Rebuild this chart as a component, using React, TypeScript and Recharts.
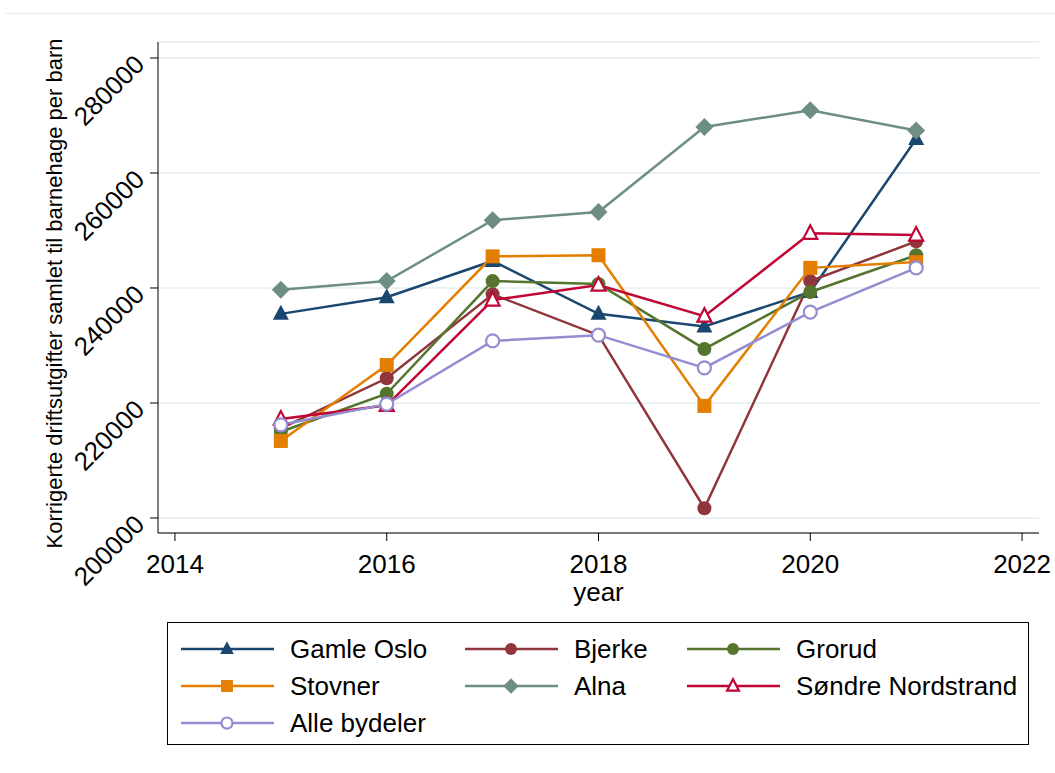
import React from 'react';
import { LineChart, Line, XAxis, YAxis, CartesianGrid } from 'recharts';

const years = [2015, 2016, 2017, 2018, 2019, 2020, 2021];
const gamleOslo = [235500, 238400, 244700, 235500, 233300, 239300, 265900];
const bjerke = [215600, 224300, 238900, 231800, 201700, 241200, 248100];
const grorud = [215000, 221600, 241200, 240700, 229400, 239300, 245700];
const stovner = [213400, 226600, 245500, 245700, 219500, 243500, 244500];
const alna = [239700, 241200, 251800, 253200, 268000, 270900, 267400];
const sondreNordstrand = [217200, 219600, 237900, 240500, 235100, 249500, 249200];
const alleBydeler = [216200, 219800, 230800, 231800, 226100, 235800, 243500];
const xTicks = [2014, 2016, 2018, 2020, 2022];
const yTicks = [200000, 220000, 240000, 260000, 280000];

const FONT = '"Liberation Sans", Arial, sans-serif';

type Shape = 'triangle' | 'circle' | 'square' | 'diamond' | 'triangleOpen' | 'circleOpen';

const series: { key: string; name: string; color: string; shape: Shape; values: number[] }[] = [
  { key: 'gamleOslo', name: 'Gamle Oslo', color: '#1a476f', shape: 'triangle', values: gamleOslo },
  { key: 'bjerke', name: 'Bjerke', color: '#90353b', shape: 'circle', values: bjerke },
  { key: 'grorud', name: 'Grorud', color: '#55752f', shape: 'circle', values: grorud },
  { key: 'stovner', name: 'Stovner', color: '#e37e00', shape: 'square', values: stovner },
  { key: 'alna', name: 'Alna', color: '#6e8e84', shape: 'diamond', values: alna },
  { key: 'sondre', name: 'Søndre Nordstrand', color: '#c10534', shape: 'triangleOpen', values: sondreNordstrand },
  { key: 'alle', name: 'Alle bydeler', color: '#938dd2', shape: 'circleOpen', values: alleBydeler },
];

const data = years.map((year, i) => {
  const row: Record<string, number> = { year };
  series.forEach((s) => { row[s.key] = s.values[i]; });
  return row;
});

const Marker = ({ shape, color, cx, cy, scale = 1 }: { shape: Shape; color: string; cx: number; cy: number; scale?: number }) => {
  const s = scale;
  switch (shape) {
    case 'triangle':
      return <polygon points={`${cx},${cy - 9 * s} ${cx - 8 * s},${cy + 6 * s} ${cx + 8 * s},${cy + 6 * s}`} fill={color} />;
    case 'triangleOpen':
      return <polygon points={`${cx},${cy - 8 * s} ${cx - 7 * s},${cy + 5.5 * s} ${cx + 7 * s},${cy + 5.5 * s}`} fill="#fff" stroke={color} strokeWidth={2.2} />;
    case 'circle':
      return <circle cx={cx} cy={cy} r={7 * s} fill={color} />;
    case 'circleOpen':
      return <circle cx={cx} cy={cy} r={6.5 * s} fill="#fff" stroke={color} strokeWidth={2.2} />;
    case 'square':
      return <rect x={cx - 7 * s} y={cy - 7 * s} width={14 * s} height={14 * s} fill={color} />;
    case 'diamond':
      return <polygon points={`${cx},${cy - 9 * s} ${cx + 9 * s},${cy} ${cx},${cy + 9 * s} ${cx - 9 * s},${cy}`} fill={color} />;
  }
};

const YTick = (props: any) => {
  const { x, y, payload } = props;
  return (
    <text
      x={x - 2}
      y={y + 8}
      transform={`rotate(-45, ${x - 2}, ${y + 8})`}
      textAnchor="end"
      fontSize={26}
      fontFamily={FONT}
      fill="#000"
    >
      {payload.value}
    </text>
  );
};

const XTick = (props: any) => {
  const { x, y, payload } = props;
  return (
    <text x={x} y={y + 30} textAnchor="middle" fontSize={26} fontFamily={FONT} fill="#000">
      {payload.value}
    </text>
  );
};

const XLabel = (props: any) => {
  const vb = props.viewBox || {};
  return (
    <text x={vb.x + vb.width / 2} y={vb.y + 68} textAnchor="middle" fontSize={26} fontFamily={FONT} fill="#000">
      year
    </text>
  );
};

const YLabel = (props: any) => {
  const vb = props.viewBox || {};
  const cy = vb.y + vb.height / 2 + 6;
  return (
    <text x={62} y={cy} transform={`rotate(-90, 62, ${cy})`} textAnchor="middle" fontSize={22} fontFamily={FONT} fill="#000">
      Korrigerte driftsutgifter samlet til barnehage per barn
    </text>
  );
};

const legendCols = [180, 464, 686];

const App: React.FC = () => {
  return (
    <div style={{ position: 'absolute', left: 0, top: 0, width: 1055, height: 773, background: '#fff', fontFamily: FONT }}>
      <div style={{ position: 'absolute', left: 5, top: 13, width: 1050, height: 1, background: '#e6ecee' }} />
      <LineChart width={1055} height={773} data={data} margin={{ top: 42, right: 16, bottom: 160, left: 0 }}>
        <CartesianGrid horizontal vertical={false} stroke="#eaf2f3" strokeWidth={2} />
        <XAxis
          dataKey="year"
          type="number"
          domain={[2013.84, 2022.16]}
          ticks={xTicks}
          allowDataOverflow
          height={80}
          stroke="#000"
          tickSize={8}
          tick={<XTick />}
          label={<XLabel />}
        />
        <YAxis
          type="number"
          domain={[197390, 282780]}
          ticks={yTicks}
          allowDataOverflow
          width={158}
          stroke="#000"
          tickSize={8}
          tick={<YTick />}
          label={<YLabel />}
        />
        {series.map((s) => (
          <Line
            key={s.key}
            dataKey={s.key}
            name={s.name}
            stroke={s.color}
            strokeWidth={2.5}
            isAnimationActive={false}
            dot={(p: any) => <Marker key={`${s.key}-${p.index}`} shape={s.shape} color={s.color} cx={p.cx} cy={p.cy} />}
            activeDot={false}
          />
        ))}
      </LineChart>
      <div style={{ position: 'absolute', left: 167, top: 622, width: 862, height: 123, border: '1px solid #000', boxSizing: 'border-box' }}>
        <svg width={862} height={123} style={{ position: 'absolute', left: 0, top: 0 }}>
          {series.map((s, i) => {
            const col = i % 3;
            const row = Math.floor(i / 3);
            const x0 = legendCols[col] - 167;
            const y = 26 + row * 37;
            return (
              <g key={s.key}>
                <line x1={x0} x2={x0 + 93} y1={y} y2={y} stroke={s.color} strokeWidth={2.5} />
                <Marker shape={s.shape} color={s.color} cx={x0 + 46} cy={y} scale={0.85} />
                <text x={x0 + 109} y={y + 9} fontSize={26} fontFamily={FONT} fill="#000">{s.name}</text>
              </g>
            );
          })}
        </svg>
      </div>
    </div>
  );
};

export default App;
